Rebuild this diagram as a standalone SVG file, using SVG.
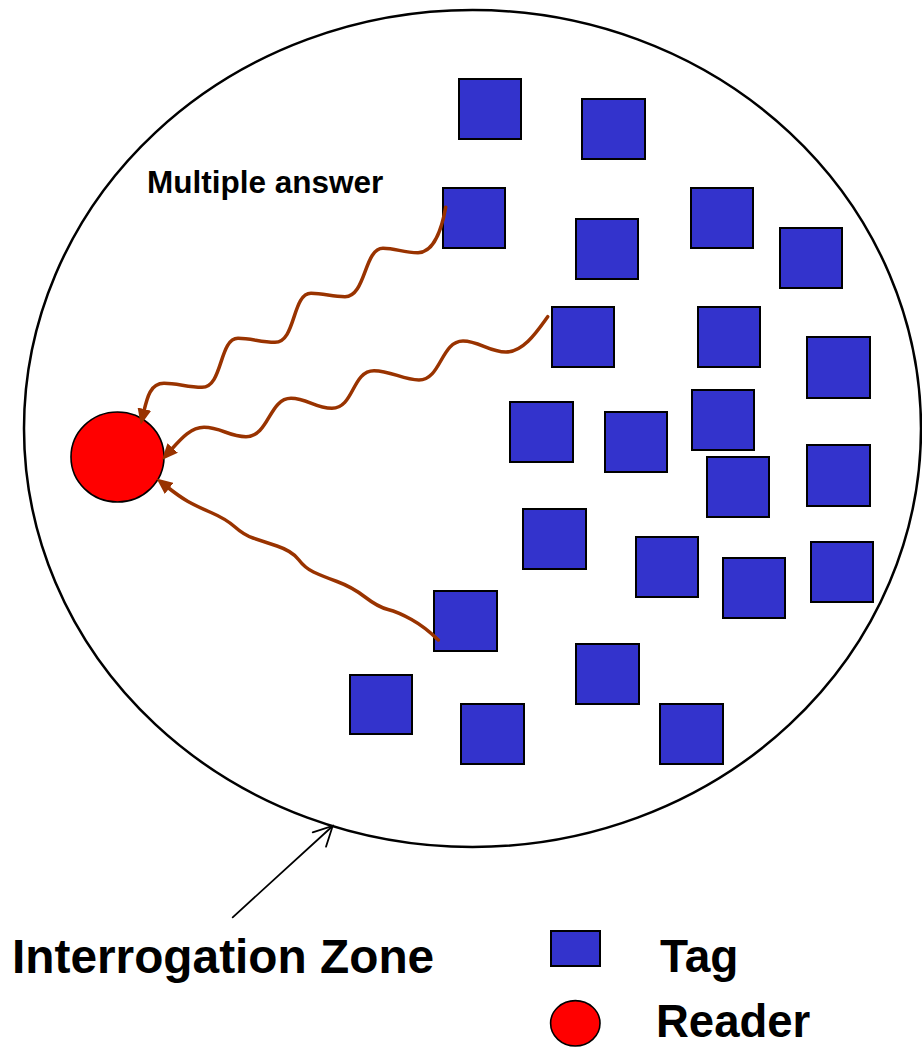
<svg xmlns="http://www.w3.org/2000/svg" width="922" height="1048" viewBox="0 0 922 1048">
<style>
.tag{fill:#3333CC;stroke:#000;stroke-width:2}
.reader{fill:#FF0000;stroke:#000;stroke-width:1.6}
.wave{fill:none;stroke:#993300;stroke-width:3.5;stroke-linecap:round;stroke-linejoin:round}
.lbl{font-family:"Liberation Sans",Arial,sans-serif;font-weight:bold;fill:#000}
</style>
<defs>
<marker id="ah" markerUnits="userSpaceOnUse" viewBox="0 0 16 14" markerWidth="16" markerHeight="14" refX="4" refY="7" orient="auto">
<path d="M0,0 L16,7 L0,14 z" fill="#993300"/>
</marker>
</defs>
<rect width="922" height="1048" fill="#fff"/>
<g id="zone">
<ellipse cx="472.5" cy="428.5" rx="448.5" ry="418.5" fill="none" stroke="#000" stroke-width="2.5"/>
</g>
<g id="tag1"><rect class="tag" x="459" y="79" width="62" height="60"/></g>
<g id="tag2"><rect class="tag" x="582" y="99" width="63" height="60"/></g>
<g id="tag3"><rect class="tag" x="443" y="188" width="62" height="60"/></g>
<g id="tag4"><rect class="tag" x="576" y="219" width="62" height="60"/></g>
<g id="tag5"><rect class="tag" x="691" y="188" width="62" height="60"/></g>
<g id="tag6"><rect class="tag" x="780" y="228" width="62" height="60"/></g>
<g id="tag7"><rect class="tag" x="552" y="307" width="62" height="60"/></g>
<g id="tag8"><rect class="tag" x="698" y="307" width="62" height="60"/></g>
<g id="tag9"><rect class="tag" x="807" y="337" width="63" height="61"/></g>
<g id="tag10"><rect class="tag" x="510" y="402" width="63" height="60"/></g>
<g id="tag11"><rect class="tag" x="605" y="412" width="62" height="60"/></g>
<g id="tag12"><rect class="tag" x="692" y="390" width="62" height="60"/></g>
<g id="tag13"><rect class="tag" x="707" y="457" width="62" height="60"/></g>
<g id="tag14"><rect class="tag" x="807" y="445" width="63" height="61"/></g>
<g id="tag15"><rect class="tag" x="523" y="509" width="63" height="60"/></g>
<g id="tag16"><rect class="tag" x="636" y="537" width="62" height="60"/></g>
<g id="tag17"><rect class="tag" x="723" y="558" width="62" height="60"/></g>
<g id="tag18"><rect class="tag" x="811" y="542" width="62" height="60"/></g>
<g id="tag19"><rect class="tag" x="434" y="591" width="63" height="60"/></g>
<g id="tag20"><rect class="tag" x="350" y="675" width="62" height="59"/></g>
<g id="tag21"><rect class="tag" x="576" y="644" width="63" height="60"/></g>
<g id="tag22"><rect class="tag" x="461" y="704" width="63" height="60"/></g>
<g id="tag23"><rect class="tag" x="660" y="704" width="63" height="60"/></g>
<g id="reader"><ellipse class="reader" cx="117.5" cy="457" rx="46.5" ry="45"/></g>
<g id="connectors">
<path class="wave" marker-end="url(#ah)" d="M445.7,207.3 C442,228 434,252.7 418,252.7 C403,252.7 396,248.3 383,248.3 C364,248.3 366,296.7 345,296.7 C332,296.7 324,293.3 311,293.3 C292,293.3 296,342.3 275,342.3 C261,342.3 251,338.3 238,338.3 C219,338.3 223,387.3 202,387.3 C188,387.3 177,383.3 164,383.3 C150,383.3 147,398 143.5,413"/>
<path class="wave" marker-end="url(#ah)" d="M547.7,316.7 C538,330 524,352 506,352 C489,352 479,341 463,341 C441,341 441,380 419,380 C403,380 391,370.7 374,370.7 C352,370.7 354,408.3 332,408.3 C315,408.3 307,398.3 291,398.3 C269,398.3 269,436.7 246,436.7 C229,436.7 221,427.3 204,427.3 C190,427.3 180,440 170,451"/>
<path class="wave" marker-end="url(#ah)" d="M438.3,640 Q425,627 411.5,619.5 Q398,612 388,609.5 Q378,607 365,597 Q352,587 337,581.5 Q322,576 313.5,572 Q305,568 298.5,559.5 Q292,551 277,546 Q262,541 253,538 Q244,535 235,527 Q226,519 211,512.5 Q196,506 188,501.5 Q180,497 166,486"/>
<g id="zone-pointer" fill="none" stroke="#000" stroke-width="1.8" stroke-linecap="round">
<line x1="232.7" y1="917.3" x2="332.7" y2="826"/>
<polyline points="312.7,832.3 332.7,826 326,846.7"/>
</g>
</g>
<g id="label-multiple"><text class="lbl" x="147" y="193" font-size="31.5">Multiple answer</text></g>
<g id="label-zone"><text class="lbl" x="12" y="973" font-size="47.8">Interrogation Zone</text></g>
<g id="legend">
<rect class="tag" x="551" y="931" width="49" height="35"/>
<text class="lbl" x="660" y="972" font-size="46">Tag</text>
<ellipse class="reader" cx="575.3" cy="1023.3" rx="24.7" ry="22.7"/>
<text class="lbl" x="656" y="1037" font-size="45.5">Reader</text>
</g>
</svg>
